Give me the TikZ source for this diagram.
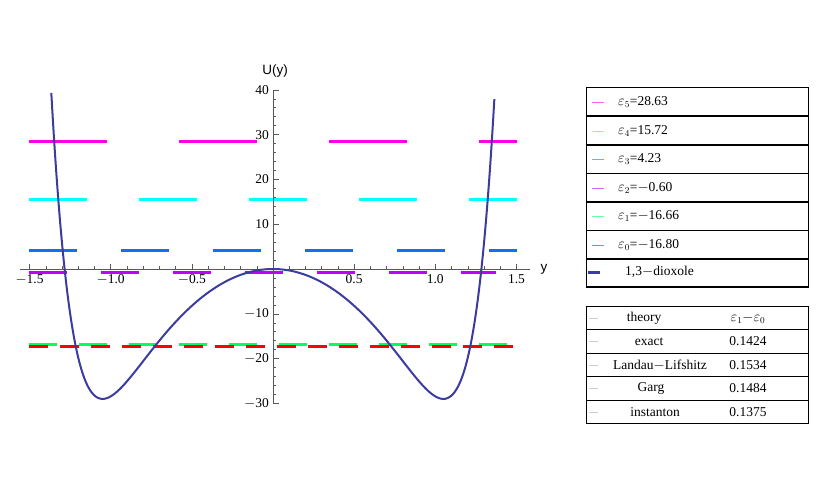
\documentclass[tikz,border=0pt]{standalone}
\usepackage{fontspec}
\setmainfont{Liberation Serif}
\newfontfamily\lsans{Liberation Sans}
\begin{document}
\begin{tikzpicture}[x=1pt,y=-1pt,font=\fontsize{13.5}{15}\selectfont,
  ax/.style={draw=gray!70!black,line width=0.8pt},
  lev/.style={line width=3pt},
  tl/.style={inner sep=1pt},
  lgbox/.style={draw,line width=0.5pt}]
\useasboundingbox (0,0) rectangle (830,498);
% energy levels
\definecolor{cmag}{RGB}{255,0,230}
\definecolor{ccyan}{RGB}{0,255,255}
\definecolor{cblue}{RGB}{20,110,240}
\definecolor{cpurp}{RGB}{190,0,255}
\definecolor{cgreen}{RGB}{0,255,100}
\definecolor{cred}{RGB}{255,0,0}
\definecolor{cnavy}{RGB}{60,60,160}
\coordinate (a5) at (29,141); \coordinate (b5) at (517,141);
\draw[lev,cmag,dash pattern=on 78pt off 72pt] (a5) -- (b5);
\coordinate (a4) at (29,199); \coordinate (b4) at (517,199);
\draw[lev,ccyan,dash pattern=on 58pt off 52pt] (a4) -- (b4);
\coordinate (a3) at (29,250); \coordinate (b3) at (517,250);
\draw[lev,cblue,dash pattern=on 48pt off 44pt] (a3) -- (b3);
\coordinate (a2) at (29,272); \coordinate (b2) at (496,272);
\draw[lev,cpurp,dash pattern=on 38pt off 34pt] (a2) -- (b2);
\coordinate (a1) at (29,344); \coordinate (b1) at (517,344);
\draw[lev,cgreen,dash pattern=on 28pt off 22pt] (a1) -- (b1);
\coordinate (a0) at (29,346.5); \coordinate (b0) at (522,346.5);
\draw[lev,cred,dash pattern=on 19pt off 12pt] (a0) -- (b0);
% axes
\coordinate (xl) at (20,269); \coordinate (xr) at (530,269);
\coordinate (yb) at (273,404); \coordinate (yt) at (273,90);
\draw[ax] (xl) -- (xr);
\draw[ax] (yb) -- (yt);
\foreach \t in {-15,...,15}{\draw[gray!70!black,line width=0.5pt] ({273+16.23*\t},269) -- ({273+16.23*\t},266);}
\foreach \t/\l in {-1.5/$-$1.5,-1.0/$-$1.0,-0.5/$-$0.5,0.5/0.5,1.0/1.0,1.5/1.5}{
  \draw[gray!70!black,line width=0.6pt] ({273+162.3*\t},269) -- ({273+162.3*\t},264);
  \node[tl,below] (xt\t) at ({273+162.3*\t},273) {\l};}
\foreach \t in {-15,...,20}{\draw[gray!70!black,line width=0.5pt] (273,{269-8.96*\t}) -- (276,{269-8.96*\t});}
\foreach \t/\l in {-3/$-$30,-2/$-$20,-1/$-$10,1/10,2/20,3/30,4/40}{
  \draw[gray!70!black,line width=0.6pt] (273,{269-44.8*\t}) -- (279,{269-44.8*\t});
  \node[tl,left] (yt\t) at (270,{269-44.8*\t}) {\l};}
\node[tl] (ylab) at (275,71) {\lsans U(y)};
\node[tl] (xlab) at (544,269) {\lsans y};
% potential
\draw[cnavy,line width=2pt,domain=-1.366:1.366,samples=200,smooth]
  plot ({273+162.3*\x},{269-4.48*(-32.88*\x*\x+4.45*(\x*\x)^5)});
% legend 1
\foreach \i/\y in {0/87,1/116,2/145,3/173,4/202,5/230,6/259}{
  \draw[lgbox] (586,\y) rectangle (808,\y+28);}
\draw[lgbox] (586,259) rectangle (808,286);
\foreach \y/\c/\t in {102/cmag/$\varepsilon_5$=28.63,131/ccyan/$\varepsilon_4$=15.72,159/cblue/$\varepsilon_3$=4.23,188/cpurp/$\varepsilon_2$=$-$0.60,216/cgreen/$\varepsilon_1$=$-$16.66,245/cred/$\varepsilon_0$=$-$16.80}{
  \draw[\c!60,line width=1pt] (592,\y) -- (604,\y);
  \node[tl,right] (l\y) at (617,\y) {\t};}
\draw[cnavy,line width=3pt] (588,272) -- (600,272);
\node[tl,right] (ldx) at (624,272) {1,3$-$dioxole};
% legend 2
\foreach \y in {306,329.5,353,376.5,400}{\draw[lgbox] (586,\y) rectangle (808,\y+23.5);}
\foreach \y/\xa/\a/\b in {318/644/theory/$\varepsilon_1{-}\varepsilon_0$,341.5/649/exact/0.1424,365/660/Landau$-$Lifshitz/0.1534,388.5/651/Garg/0.1484,412/655/instanton/0.1375}{
  \draw[gray!40,line width=0.5pt] (589,\y) -- (598,\y);
  \node[tl] (ta\y) at (\xa,\y) {\a};
  \node[tl] (tb\y) at (748,\y) {\b};}
\end{tikzpicture}
\end{document}
